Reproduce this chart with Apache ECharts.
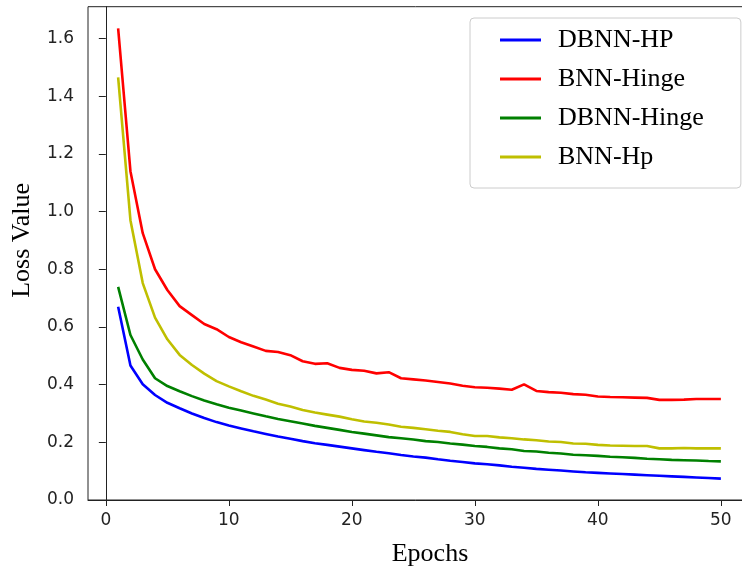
<!DOCTYPE html>
<html>
<head>
<meta charset="utf-8">
<script src="https://cdn.jsdelivr.net/npm/echarts@6/dist/echarts.min.js"></script>
<style>
html,body{margin:0;padding:0;background:#fff;}
#chart{width:742px;height:571px;}
</style>
</head>
<body>
<div id="chart"></div>
<script>
const epochs = [1,2,3,4,5,6,7,8,9,10,11,12,13,14,15,16,17,18,19,20,21,22,23,24,25,26,27,28,29,30,31,32,33,34,35,36,37,38,39,40,41,42,43,44,45,46,47,48,49,50];
const dbnnHP = [0.670,0.466,0.401,0.364,0.337,0.318,0.300,0.284,0.270,0.258,
  0.248,0.238,0.229,0.220,0.212,0.204,0.197,0.191,0.185,0.179,
  0.173,0.167,0.162,0.156,0.151,0.147,0.141,0.136,0.132,0.127,
  0.124,0.120,0.115,0.112,0.108,0.105,0.102,0.099,0.096,0.094,
  0.092,0.090,0.088,0.086,0.084,0.082,0.080,0.078,0.076,0.074];
const bnnHinge = [1.635,1.140,0.925,0.800,0.728,0.672,0.641,0.610,0.592,0.565,
  0.547,0.532,0.517,0.513,0.502,0.481,0.472,0.474,0.458,0.451,
  0.448,0.439,0.443,0.422,0.418,0.414,0.409,0.404,0.396,0.391,
  0.389,0.386,0.382,0.401,0.378,0.374,0.372,0.367,0.365,0.359,
  0.357,0.356,0.355,0.354,0.347,0.347,0.348,0.350,0.350,0.350];
const dbnnHinge = [0.739,0.572,0.487,0.422,0.395,0.377,0.360,0.345,0.332,0.320,
  0.310,0.300,0.290,0.281,0.273,0.265,0.257,0.250,0.243,0.236,
  0.230,0.224,0.218,0.214,0.210,0.204,0.201,0.196,0.192,0.187,
  0.184,0.179,0.176,0.170,0.168,0.164,0.161,0.157,0.155,0.153,
  0.150,0.148,0.146,0.143,0.141,0.139,0.138,0.137,0.135,0.134];
const bnnHp = [1.465,0.970,0.752,0.632,0.557,0.503,0.468,0.438,0.412,0.394,
  0.377,0.361,0.348,0.334,0.324,0.312,0.303,0.296,0.289,0.280,
  0.272,0.268,0.262,0.254,0.250,0.245,0.240,0.236,0.228,0.222,
  0.222,0.217,0.214,0.210,0.207,0.203,0.201,0.196,0.195,0.191,
  0.189,0.188,0.187,0.187,0.179,0.179,0.180,0.179,0.179,0.179];
const xTicks = [0,10,20,30,40,50];
const yTicks = [0.0,0.2,0.4,0.6,0.8,1.0,1.2,1.4,1.6];
const seriesNames = ['DBNN-HP','BNN-Hinge','DBNN-Hinge','BNN-Hp'];
const seriesColors = ['#0000ff','#ff0000','#008000','#bfbf00'];
const seriesValues = [dbnnHP, bnnHinge, dbnnHinge, bnnHp];

const chart = echarts.init(document.getElementById('chart'), null, {renderer:'canvas'});
const axisColor = '#222';
const option = {
  animation: false,
  backgroundColor: '#fff',
  grid: {left: 88, width: 663, top: 6.7, height: 493.3, outerBoundsMode: 'none', containLabel: false,
    show: true, borderColor: axisColor, borderWidth: 1, backgroundColor: 'transparent'},
  legend: {
    orient: 'vertical', left: 470, top: 18,
    backgroundColor: 'rgba(255,255,255,0.9)', borderColor: '#cccccc', borderWidth: 1, borderRadius: 4,
    padding: [9, 37, 18, 30], itemGap: 13, itemWidth: 41, itemHeight: 3, icon: 'rect',
    textStyle: {fontFamily: 'Liberation Serif', fontSize: 26, color: '#000', lineHeight: 26, padding: [0,0,0,12]},
    data: seriesNames
  },
  xAxis: {
    type: 'value', min: -1.45, max: 52.45,
    name: 'Epochs', nameLocation: 'middle', nameGap: 41,
    nameTextStyle: {fontFamily: 'Liberation Serif', fontSize: 26, color: '#000', padding: [0,0,0,21]},
    axisLine: {show: true, lineStyle: {color: axisColor, width: 1}},
    axisTick: {show: true, length: 6, lineStyle: {color: axisColor}, customValues: xTicks},
    axisLabel: {fontFamily: 'DejaVu Sans', fontSize: 17, color: '#222', margin: 12, customValues: xTicks},
    splitLine: {show: false}
  },
  yAxis: {
    type: 'value', min: 0, max: 1.71,
    name: 'Loss Value', nameLocation: 'middle', nameGap: 53,
    nameTextStyle: {fontFamily: 'Liberation Serif', fontSize: 26, color: '#000', padding: [0,0,0,26]},
    axisLine: {show: true, lineStyle: {color: axisColor, width: 1}},
    axisTick: {show: true, length: 7, lineStyle: {color: axisColor}, customValues: yTicks},
    axisLabel: {fontFamily: 'DejaVu Sans', fontSize: 17, color: '#222', margin: 14, customValues: yTicks,
      formatter: v => v.toFixed(1)},
    splitLine: {show: false}
  },
  series: seriesNames.map((n, i) => ({
    name: n, type: 'line', showSymbol: false, symbol: 'none',
    data: epochs.map((e, j) => [e, seriesValues[i][j]]),
    lineStyle: {color: seriesColors[i], width: 2.6},
    itemStyle: {color: seriesColors[i]}
  }))
};
chart.setOption(option);
</script>
</body>
</html>
